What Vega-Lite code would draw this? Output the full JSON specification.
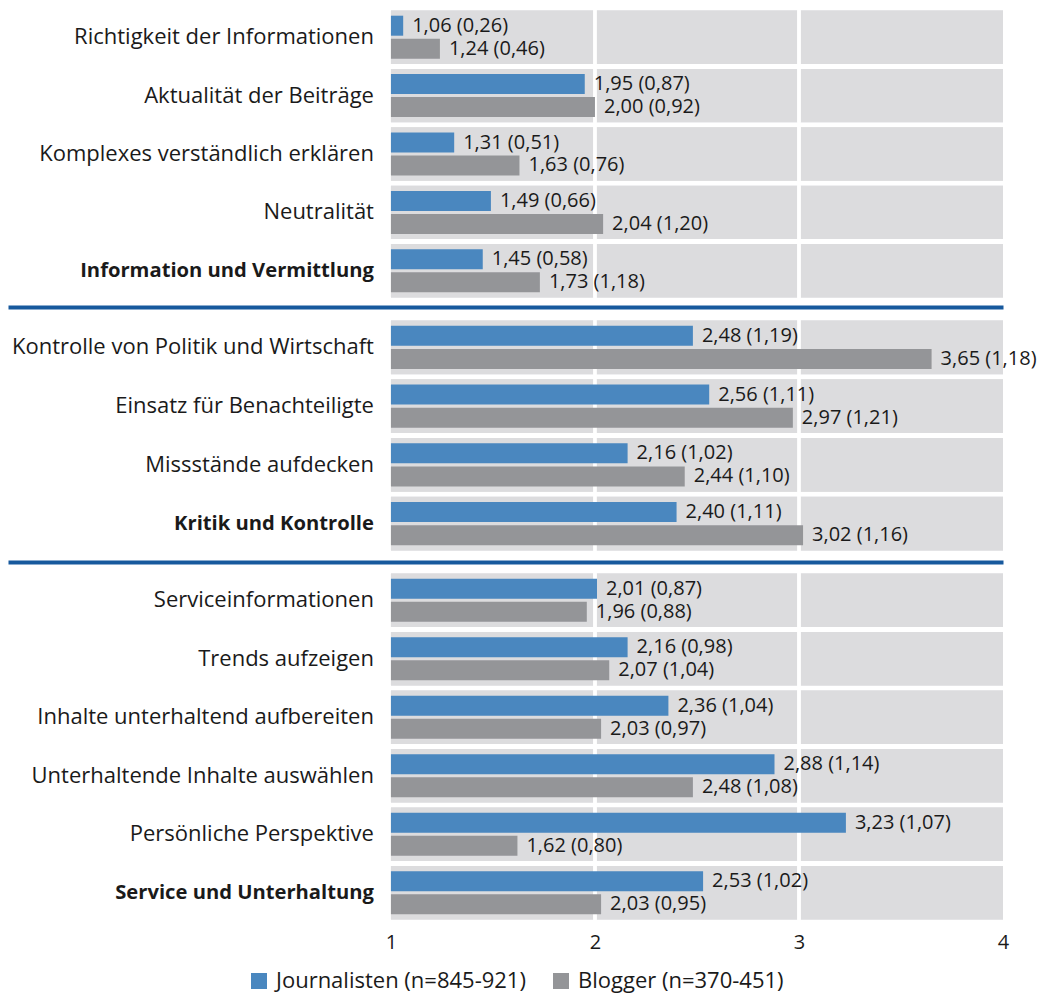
{
  "$schema": "https://vega.github.io/schema/vega-lite/v6.json",
  "padding": {"left": 8, "top": 6, "right": 0, "bottom": 2},
  "bounds": "flush",
  "spacing": 18,
  "config": {
    "view": {"stroke": null},
    "font": "Open Sans",
    "text": {"font": "Open Sans", "fontSize": 20, "color": "#1a1a1a"},
    "legend": {"labelFont": "Open Sans", "labelFontSize": 22, "labelColor": "#1a1a1a", "labelLimit": 0},
    "axis": {"labelFont": "Open Sans"}
  },
  "resolve": {"scale": {"x": "independent", "y": "independent", "yOffset": "independent", "color": "shared"}},
  "datasets": {
    "d": [
      {"g": 1, "item": "Richtigkeit der Informationen", "s": "J", "serie": "Journalisten (n=845-921)", "m": 1.06, "sd": 0.26, "txt": "1,06 (0,26)", "bold": false},
      {"g": 1, "item": "Richtigkeit der Informationen", "s": "B", "serie": "Blogger (n=370-451)", "m": 1.24, "sd": 0.46, "txt": "1,24 (0,46)", "bold": false},
      {"g": 1, "item": "Aktualität der Beiträge", "s": "J", "serie": "Journalisten (n=845-921)", "m": 1.95, "sd": 0.87, "txt": "1,95 (0,87)", "bold": false},
      {"g": 1, "item": "Aktualität der Beiträge", "s": "B", "serie": "Blogger (n=370-451)", "m": 2.00, "sd": 0.92, "txt": "2,00 (0,92)", "bold": false},
      {"g": 1, "item": "Komplexes verständlich erklären", "s": "J", "serie": "Journalisten (n=845-921)", "m": 1.31, "sd": 0.51, "txt": "1,31 (0,51)", "bold": false},
      {"g": 1, "item": "Komplexes verständlich erklären", "s": "B", "serie": "Blogger (n=370-451)", "m": 1.63, "sd": 0.76, "txt": "1,63 (0,76)", "bold": false},
      {"g": 1, "item": "Neutralität", "s": "J", "serie": "Journalisten (n=845-921)", "m": 1.49, "sd": 0.66, "txt": "1,49 (0,66)", "bold": false},
      {"g": 1, "item": "Neutralität", "s": "B", "serie": "Blogger (n=370-451)", "m": 2.04, "sd": 1.20, "txt": "2,04 (1,20)", "bold": false},
      {"g": 1, "item": "Information und Vermittlung", "s": "J", "serie": "Journalisten (n=845-921)", "m": 1.45, "sd": 0.58, "txt": "1,45 (0,58)", "bold": true},
      {"g": 1, "item": "Information und Vermittlung", "s": "B", "serie": "Blogger (n=370-451)", "m": 1.73, "sd": 1.18, "txt": "1,73 (1,18)", "bold": true},
      {"g": 2, "item": "Kontrolle von Politik und Wirtschaft", "s": "J", "serie": "Journalisten (n=845-921)", "m": 2.48, "sd": 1.19, "txt": "2,48 (1,19)", "bold": false},
      {"g": 2, "item": "Kontrolle von Politik und Wirtschaft", "s": "B", "serie": "Blogger (n=370-451)", "m": 3.65, "sd": 1.18, "txt": "3,65 (1,18)", "bold": false},
      {"g": 2, "item": "Einsatz für Benachteiligte", "s": "J", "serie": "Journalisten (n=845-921)", "m": 2.56, "sd": 1.11, "txt": "2,56 (1,11)", "bold": false},
      {"g": 2, "item": "Einsatz für Benachteiligte", "s": "B", "serie": "Blogger (n=370-451)", "m": 2.97, "sd": 1.21, "txt": "2,97 (1,21)", "bold": false},
      {"g": 2, "item": "Missstände aufdecken", "s": "J", "serie": "Journalisten (n=845-921)", "m": 2.16, "sd": 1.02, "txt": "2,16 (1,02)", "bold": false},
      {"g": 2, "item": "Missstände aufdecken", "s": "B", "serie": "Blogger (n=370-451)", "m": 2.44, "sd": 1.10, "txt": "2,44 (1,10)", "bold": false},
      {"g": 2, "item": "Kritik und Kontrolle", "s": "J", "serie": "Journalisten (n=845-921)", "m": 2.40, "sd": 1.11, "txt": "2,40 (1,11)", "bold": true},
      {"g": 2, "item": "Kritik und Kontrolle", "s": "B", "serie": "Blogger (n=370-451)", "m": 3.02, "sd": 1.16, "txt": "3,02 (1,16)", "bold": true},
      {"g": 3, "item": "Serviceinformationen", "s": "J", "serie": "Journalisten (n=845-921)", "m": 2.01, "sd": 0.87, "txt": "2,01 (0,87)", "bold": false},
      {"g": 3, "item": "Serviceinformationen", "s": "B", "serie": "Blogger (n=370-451)", "m": 1.96, "sd": 0.88, "txt": "1,96 (0,88)", "bold": false},
      {"g": 3, "item": "Trends aufzeigen", "s": "J", "serie": "Journalisten (n=845-921)", "m": 2.16, "sd": 0.98, "txt": "2,16 (0,98)", "bold": false},
      {"g": 3, "item": "Trends aufzeigen", "s": "B", "serie": "Blogger (n=370-451)", "m": 2.07, "sd": 1.04, "txt": "2,07 (1,04)", "bold": false},
      {"g": 3, "item": "Inhalte unterhaltend aufbereiten", "s": "J", "serie": "Journalisten (n=845-921)", "m": 2.36, "sd": 1.04, "txt": "2,36 (1,04)", "bold": false},
      {"g": 3, "item": "Inhalte unterhaltend aufbereiten", "s": "B", "serie": "Blogger (n=370-451)", "m": 2.03, "sd": 0.97, "txt": "2,03 (0,97)", "bold": false},
      {"g": 3, "item": "Unterhaltende Inhalte auswählen", "s": "J", "serie": "Journalisten (n=845-921)", "m": 2.88, "sd": 1.14, "txt": "2,88 (1,14)", "bold": false},
      {"g": 3, "item": "Unterhaltende Inhalte auswählen", "s": "B", "serie": "Blogger (n=370-451)", "m": 2.48, "sd": 1.08, "txt": "2,48 (1,08)", "bold": false},
      {"g": 3, "item": "Persönliche Perspektive", "s": "J", "serie": "Journalisten (n=845-921)", "m": 3.23, "sd": 1.07, "txt": "3,23 (1,07)", "bold": false},
      {"g": 3, "item": "Persönliche Perspektive", "s": "B", "serie": "Blogger (n=370-451)", "m": 1.62, "sd": 0.80, "txt": "1,62 (0,80)", "bold": false},
      {"g": 3, "item": "Service und Unterhaltung", "s": "J", "serie": "Journalisten (n=845-921)", "m": 2.53, "sd": 1.02, "txt": "2,53 (1,02)", "bold": true},
      {"g": 3, "item": "Service und Unterhaltung", "s": "B", "serie": "Blogger (n=370-451)", "m": 2.03, "sd": 0.95, "txt": "2,03 (0,95)", "bold": true}
    ]
  },
  "vconcat": [
    {
      "width": 995, "height": 292,
      "data": {"name": "d"},
      "transform": [{"filter": "datum.g == 1"}],
      "layer": [
        {"mark": {"type": "rect", "color": "#dcdcde"},
         "encoding": {
           "y": {"field": "item", "type": "nominal", "sort": null, "axis": null, "scale": {"paddingInner": 0.0856, "paddingOuter": 0.0428}},
           "x": {"datum": 1, "type": "quantitative", "scale": {"domain": [-0.877, 4], "nice": false, "zero": false},
                 "axis": {"orient": "bottom", "domain": true, "domainColor": "#17599d", "domainWidth": 4, "labels": false, "ticks": false, "grid": false, "title": null, "offset": 7}},
           "x2": {"datum": 4}}},
        {"mark": {"type": "rule", "color": "white", "strokeWidth": 2.5}, "encoding": {"x": {"datum": 2, "type": "quantitative"}}},
        {"mark": {"type": "rule", "color": "white", "strokeWidth": 2.5}, "encoding": {"x": {"datum": 3, "type": "quantitative"}}},
        {"mark": {"type": "bar"},
         "encoding": {
           "y": {"field": "item", "type": "nominal", "sort": null},
           "yOffset": {"field": "serie", "type": "nominal", "sort": ["Journalisten (n=845-921)", "Blogger (n=370-451)"], "scale": {"paddingInner": 0.13, "paddingOuter": 0.226}},
           "x": {"field": "m", "type": "quantitative"},
           "x2": {"datum": 1},
           "color": {"field": "serie", "type": "nominal",
                     "scale": {"domain": ["Journalisten (n=845-921)", "Blogger (n=370-451)"], "range": ["#4a87bf", "#949598"]},
                     "legend": {"orient": "none", "legendX": 240, "legendY": 962, "direction": "horizontal", "title": null, "symbolType": "square", "symbolSize": 256, "symbolStrokeWidth": 0, "columnPadding": 24, "labelOffset": 6}}}},
        {"mark": {"type": "text", "align": "left", "baseline": "middle", "dx": 9},
         "encoding": {
           "y": {"field": "item", "type": "nominal", "sort": null},
           "yOffset": {"field": "serie", "type": "nominal", "sort": ["Journalisten (n=845-921)", "Blogger (n=370-451)"]},
           "x": {"field": "m", "type": "quantitative"},
           "text": {"field": "txt"}}},
        {"transform": [{"filter": "datum.s == 'J' && !datum.bold"}],
         "mark": {"type": "text", "align": "right", "baseline": "middle", "dx": -17, "fontSize": 22},
         "encoding": {
           "y": {"field": "item", "type": "nominal", "sort": null},
           "x": {"datum": 1, "type": "quantitative"},
           "text": {"field": "item"}}},
        {"transform": [{"filter": "datum.s == 'J' && datum.bold"}],
         "mark": {"type": "text", "align": "right", "baseline": "middle", "dx": -17, "fontWeight": "bold", "fontSize": 20.2},
         "encoding": {
           "y": {"field": "item", "type": "nominal", "sort": null},
           "x": {"datum": 1, "type": "quantitative"},
           "text": {"field": "item"}}}
      ]
    },
    {
      "width": 995, "height": 235,
      "data": {"name": "d"},
      "transform": [{"filter": "datum.g == 2"}],
      "layer": [
        {"mark": {"type": "rect", "color": "#dcdcde"},
         "encoding": {
           "y": {"field": "item", "type": "nominal", "sort": null, "axis": null, "scale": {"paddingInner": 0.0856, "paddingOuter": 0.0428}},
           "x": {"datum": 1, "type": "quantitative", "scale": {"domain": [-0.877, 4], "nice": false, "zero": false},
                 "axis": {"orient": "bottom", "domain": true, "domainColor": "#17599d", "domainWidth": 4, "labels": false, "ticks": false, "grid": false, "title": null, "offset": 9}},
           "x2": {"datum": 4}}},
        {"mark": {"type": "rule", "color": "white", "strokeWidth": 2.5}, "encoding": {"x": {"datum": 2, "type": "quantitative"}}},
        {"mark": {"type": "rule", "color": "white", "strokeWidth": 2.5}, "encoding": {"x": {"datum": 3, "type": "quantitative"}}},
        {"mark": {"type": "bar"},
         "encoding": {
           "y": {"field": "item", "type": "nominal", "sort": null},
           "yOffset": {"field": "serie", "type": "nominal", "sort": ["Journalisten (n=845-921)", "Blogger (n=370-451)"], "scale": {"paddingInner": 0.13, "paddingOuter": 0.226}},
           "x": {"field": "m", "type": "quantitative"},
           "x2": {"datum": 1},
           "color": {"field": "serie", "type": "nominal"}}},
        {"mark": {"type": "text", "align": "left", "baseline": "middle", "dx": 9},
         "encoding": {
           "y": {"field": "item", "type": "nominal", "sort": null},
           "yOffset": {"field": "serie", "type": "nominal", "sort": ["Journalisten (n=845-921)", "Blogger (n=370-451)"]},
           "x": {"field": "m", "type": "quantitative"},
           "text": {"field": "txt"}}},
        {"transform": [{"filter": "datum.s == 'J' && !datum.bold"}],
         "mark": {"type": "text", "align": "right", "baseline": "middle", "dx": -17, "fontSize": 22},
         "encoding": {
           "y": {"field": "item", "type": "nominal", "sort": null},
           "x": {"datum": 1, "type": "quantitative"},
           "text": {"field": "item"}}},
        {"transform": [{"filter": "datum.s == 'J' && datum.bold"}],
         "mark": {"type": "text", "align": "right", "baseline": "middle", "dx": -17, "fontWeight": "bold", "fontSize": 20.2},
         "encoding": {
           "y": {"field": "item", "type": "nominal", "sort": null},
           "x": {"datum": 1, "type": "quantitative"},
           "text": {"field": "item"}}}
      ]
    },
    {
      "width": 995, "height": 351,
      "data": {"name": "d"},
      "transform": [{"filter": "datum.g == 3"}],
      "layer": [
        {"mark": {"type": "rect", "color": "#dcdcde"},
         "encoding": {
           "y": {"field": "item", "type": "nominal", "sort": null, "axis": null, "scale": {"paddingInner": 0.0856, "paddingOuter": 0.0428}},
           "x": {"datum": 1, "type": "quantitative", "scale": {"domain": [-0.877, 4], "nice": false, "zero": false},
                 "axis": {"orient": "bottom", "values": [1, 2, 3, 4], "format": "d", "domain": false, "ticks": false, "grid": false, "title": null, "labelFontSize": 20, "labelColor": "#1a1a1a", "labelPadding": 10, "labelFlush": false}},
           "x2": {"datum": 4}}},
        {"mark": {"type": "rule", "color": "white", "strokeWidth": 2.5}, "encoding": {"x": {"datum": 2, "type": "quantitative"}}},
        {"mark": {"type": "rule", "color": "white", "strokeWidth": 2.5}, "encoding": {"x": {"datum": 3, "type": "quantitative"}}},
        {"mark": {"type": "bar"},
         "encoding": {
           "y": {"field": "item", "type": "nominal", "sort": null},
           "yOffset": {"field": "serie", "type": "nominal", "sort": ["Journalisten (n=845-921)", "Blogger (n=370-451)"], "scale": {"paddingInner": 0.13, "paddingOuter": 0.226}},
           "x": {"field": "m", "type": "quantitative"},
           "x2": {"datum": 1},
           "color": {"field": "serie", "type": "nominal"}}},
        {"mark": {"type": "text", "align": "left", "baseline": "middle", "dx": 9},
         "encoding": {
           "y": {"field": "item", "type": "nominal", "sort": null},
           "yOffset": {"field": "serie", "type": "nominal", "sort": ["Journalisten (n=845-921)", "Blogger (n=370-451)"]},
           "x": {"field": "m", "type": "quantitative"},
           "text": {"field": "txt"}}},
        {"transform": [{"filter": "datum.s == 'J' && !datum.bold"}],
         "mark": {"type": "text", "align": "right", "baseline": "middle", "dx": -17, "fontSize": 22},
         "encoding": {
           "y": {"field": "item", "type": "nominal", "sort": null},
           "x": {"datum": 1, "type": "quantitative"},
           "text": {"field": "item"}}},
        {"transform": [{"filter": "datum.s == 'J' && datum.bold"}],
         "mark": {"type": "text", "align": "right", "baseline": "middle", "dx": -17, "fontWeight": "bold", "fontSize": 20.2},
         "encoding": {
           "y": {"field": "item", "type": "nominal", "sort": null},
           "x": {"datum": 1, "type": "quantitative"},
           "text": {"field": "item"}}}
      ]
    }
  ]
}
